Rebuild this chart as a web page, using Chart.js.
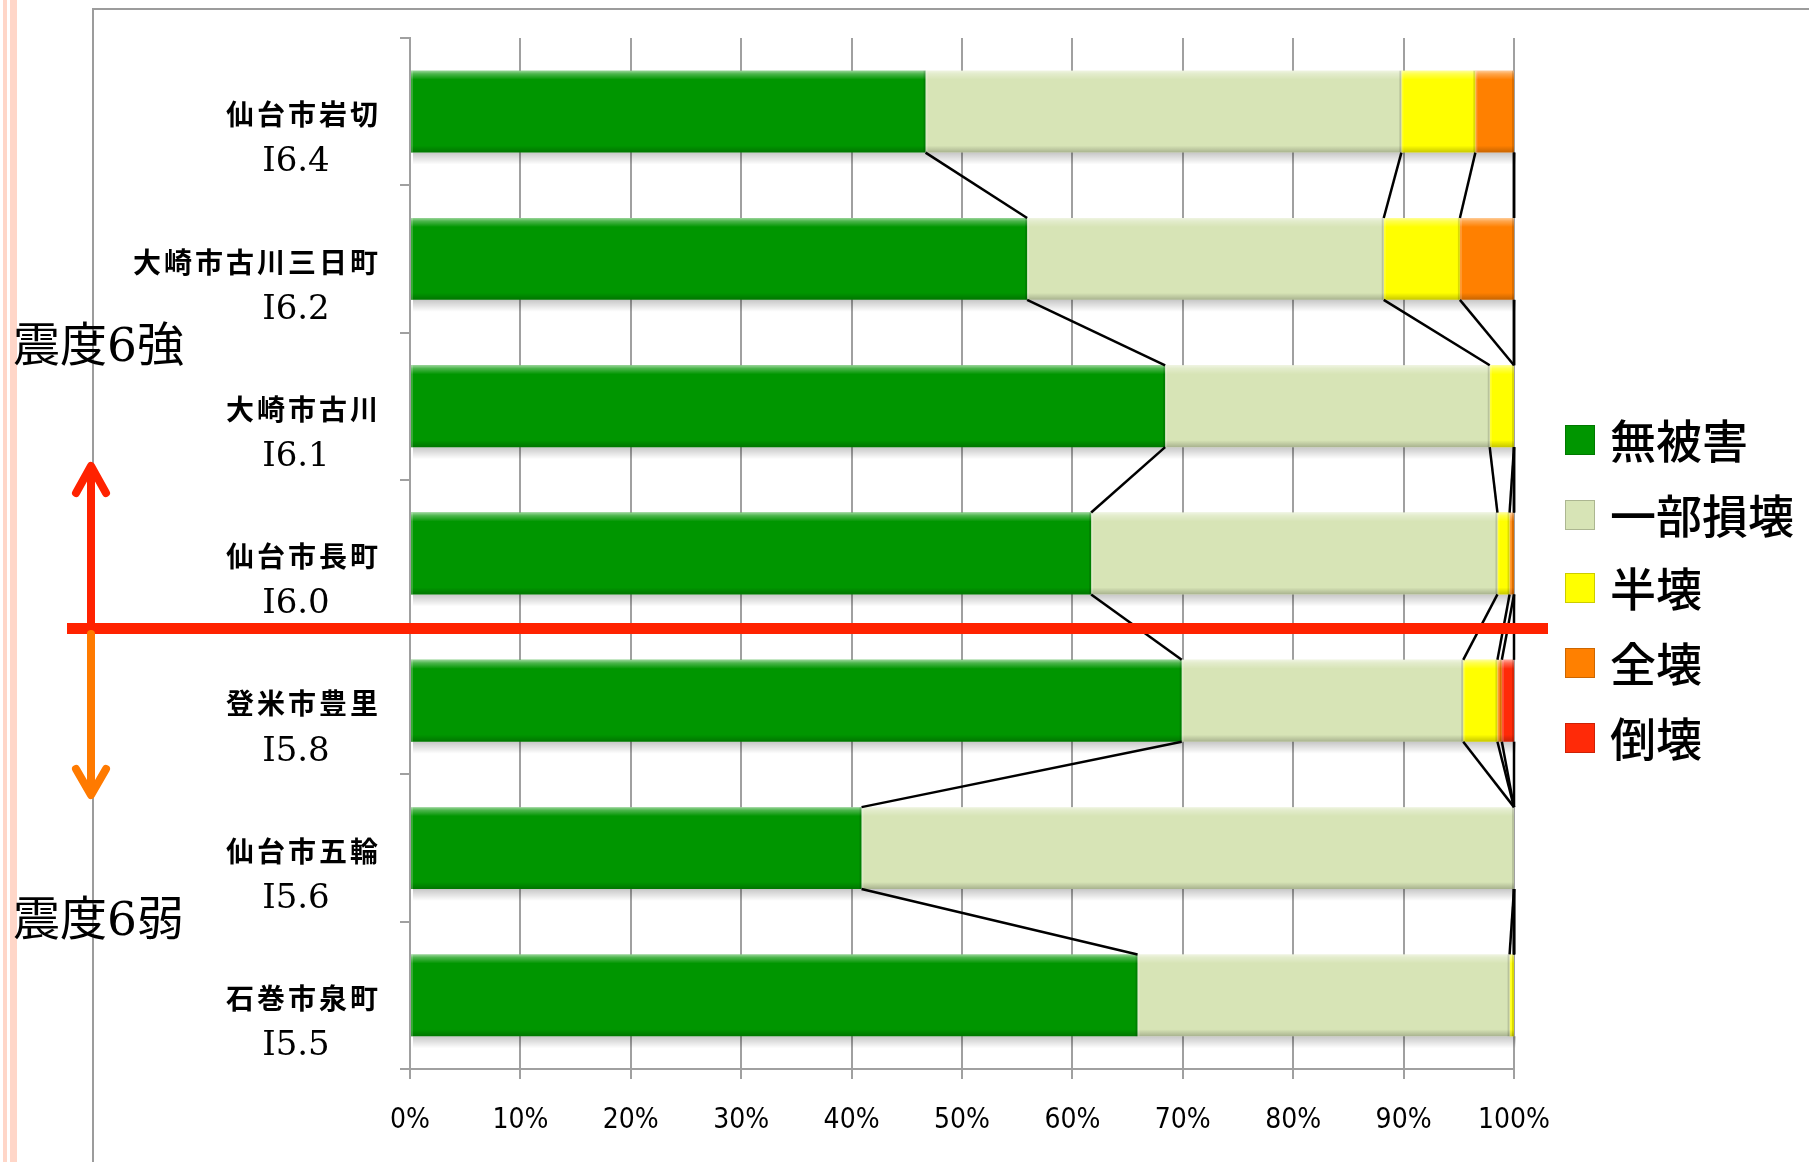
<!DOCTYPE html>
<html lang="ja">
<head>
<meta charset="utf-8">
<title>震度と被害の割合</title>
<script src="https://cdn.jsdelivr.net/npm/chart.js@4/dist/chart.umd.min.js"></script>
<style>
  html, body { margin: 0; padding: 0; background: #fff; }
  #wrap { width: 1809px; height: 1162px; position: relative; }
</style>
</head>
<body>
<div id="wrap"><canvas id="damageChart"></canvas></div>
<script>
// 観測点ごとの被害割合 (%)
const sites = ['仙台市岩切', '大崎市古川三日町', '大崎市古川', '仙台市長町', '登米市豊里', '仙台市五輪', '石巻市泉町'];
const intensity = ['I6.4', 'I6.2', 'I6.1', 'I6.0', 'I5.8', 'I5.6', 'I5.5'];
const seriesNames = ['無被害', '一部損壊', '半壊', '全壊', '倒壊'];
const noDamage = [46.7, 55.9, 68.4, 61.7, 69.9, 40.9, 65.9];
const partDamage = [43.1, 32.3, 29.4, 36.8, 25.5, 59.1, 33.7];
const halfCollapse = [6.7, 6.9, 2.2, 1.1, 3.1, 0, 0.4];
const fullCollapse = [3.5, 4.9, 0, 0.4, 0.4, 0, 0];
const toppled = [0, 0, 0, 0, 1.1, 0, 0];
const groupLabels = ['震度6強', '震度6弱'];

const seriesColors = ['#009600', '#d7e4b6', '#ffff00', '#ff8000', '#ff2a08'];
const seriesValues = [noDamage, partDamage, halfCollapse, fullCollapse, toppled];

const GRID = '#a0a0a0';

// 棒の立体感・影・系列線・ラベル・凡例などの描画
const decor = {
  id: 'decor',
  beforeDraw(chart) {
    const { ctx, width, height } = chart;
    ctx.save();
    ctx.fillStyle = '#fff';
    ctx.fillRect(0, 0, width, height);
    // 左端の飾り線
    ctx.fillStyle = '#ffd6c8';
    ctx.fillRect(3, 0, 4, height);
    ctx.fillRect(10, 0, 7, height);
    // 外枠
    ctx.strokeStyle = '#9c9c9c';
    ctx.lineWidth = 2;
    ctx.beginPath();
    ctx.moveTo(93, height);
    ctx.lineTo(93, 9);
    ctx.lineTo(width, 9);
    ctx.stroke();
    ctx.restore();
  },
  beforeDatasetsDraw(chart) {
    const { ctx } = chart;
    const first = chart.getDatasetMeta(0).data;
    const last = chart.getDatasetMeta(chart.data.datasets.length - 1).data;
    ctx.save();
    first.forEach((el, i) => {
      const bottom = el.y + el.height / 2;
      const left = el.base;
      const right = last[i].x;
      const g = ctx.createLinearGradient(0, bottom, 0, bottom + 12);
      g.addColorStop(0, 'rgba(0,0,0,0.22)');
      g.addColorStop(1, 'rgba(0,0,0,0)');
      ctx.fillStyle = g;
      ctx.fillRect(left + 2, bottom, right - left, 12);
    });
    ctx.restore();
  },
  afterDatasetsDraw(chart) {
    const { ctx } = chart;
    const n = chart.data.datasets.length;
    ctx.save();
    // 面取り風の陰影
    for (let d = 0; d < n; d++) {
      chart.getDatasetMeta(d).data.forEach(el => {
        const left = Math.min(el.x, el.base);
        const w = Math.abs(el.x - el.base);
        if (w < 0.5) return;
        const top = el.y - el.height / 2;
        const h = el.height;
        let g = ctx.createLinearGradient(0, top, 0, top + 9);
        g.addColorStop(0, 'rgba(255,255,255,0.6)');
        g.addColorStop(0.35, 'rgba(255,255,255,0.3)');
        g.addColorStop(1, 'rgba(255,255,255,0)');
        ctx.fillStyle = g;
        ctx.fillRect(left, top, w, 9);
        g = ctx.createLinearGradient(0, top + h - 7, 0, top + h);
        g.addColorStop(0, 'rgba(0,0,0,0)');
        g.addColorStop(1, 'rgba(0,0,0,0.22)');
        ctx.fillStyle = g;
        ctx.fillRect(left, top + h - 7, w, 7);
        if (w > 4) {
          ctx.fillStyle = 'rgba(0,0,0,0.14)';
          ctx.fillRect(left + w - 2, top, 2, h);
          ctx.fillStyle = 'rgba(255,255,255,0.2)';
          ctx.fillRect(left, top, 2, h);
        }
      });
    }
    // 系列線
    ctx.strokeStyle = '#000';
    ctx.lineWidth = 2.5;
    for (let d = 0; d < n; d++) {
      const els = chart.getDatasetMeta(d).data;
      for (let i = 0; i < els.length - 1; i++) {
        const a = els[i], b = els[i + 1];
        ctx.beginPath();
        ctx.moveTo(a.x, a.y + a.height / 2);
        ctx.lineTo(b.x, b.y - b.height / 2);
        ctx.stroke();
      }
    }
    // 観測点ラベル
    const yScale = chart.scales.y;
    ctx.fillStyle = '#000';
    ctx.textBaseline = 'middle';
    sites.forEach((name, i) => {
      const cy = yScale.getPixelForValue(i);
      ctx.font = 'bold 28px "Noto Sans CJK JP"';
      ctx.letterSpacing = '3px';
      ctx.textAlign = 'right';
      ctx.fillText(name, 381, cy + 3);
      ctx.letterSpacing = '0px';
      ctx.font = '34px "DejaVu Serif"';
      ctx.textAlign = 'center';
      ctx.fillText(intensity[i], 296, cy + 51);
    });
    // 凡例
    const legendY = [440, 515, 588, 663, 738];
    chart.data.datasets.forEach((ds, d) => {
      const y = legendY[d];
      ctx.fillStyle = ds.backgroundColor;
      ctx.fillRect(1565, y - 15, 30, 30);
      ctx.strokeStyle = 'rgba(0,0,0,0.2)';
      ctx.lineWidth = 1;
      ctx.strokeRect(1565.5, y - 14.5, 29, 29);
      ctx.fillStyle = '#000';
      ctx.font = '500 46px "Noto Sans CJK JP"';
      ctx.textAlign = 'left';
      ctx.fillText(ds.label, 1610, y + 1);
    });
    ctx.restore();
  },
  afterDraw(chart) {
    const { ctx } = chart;
    ctx.save();
    // 震度6強/6弱の境界
    ctx.fillStyle = '#ff2200';
    ctx.fillRect(67, 623, 1548 - 67, 11);
    ctx.lineCap = 'round';
    ctx.lineJoin = 'round';
    ctx.lineWidth = 8;
    // 上向き矢印
    ctx.strokeStyle = '#ff2200';
    ctx.beginPath();
    ctx.moveTo(91, 623);
    ctx.lineTo(91, 468);
    ctx.stroke();
    ctx.beginPath();
    ctx.moveTo(76, 493);
    ctx.lineTo(91, 466);
    ctx.lineTo(106, 493);
    ctx.stroke();
    // 下向き矢印
    ctx.strokeStyle = '#ff7a00';
    ctx.beginPath();
    ctx.moveTo(91, 634);
    ctx.lineTo(91, 792);
    ctx.stroke();
    ctx.beginPath();
    ctx.moveTo(76, 769);
    ctx.lineTo(91, 795);
    ctx.lineTo(106, 769);
    ctx.stroke();
    // 震度の区分
    ctx.fillStyle = '#000';
    ctx.font = '47px "DejaVu Serif", "Noto Sans CJK JP"';
    ctx.textAlign = 'left';
    ctx.textBaseline = 'middle';
    ctx.fillText(groupLabels[0], 13, 349);
    ctx.fillText(groupLabels[1], 13, 923);
    ctx.restore();
  }
};

new Chart(document.getElementById('damageChart'), {
  type: 'bar',
  data: {
    labels: sites,
    datasets: seriesNames.map((name, d) => ({
      label: name,
      data: seriesValues[d],
      backgroundColor: seriesColors[d],
      borderWidth: 0,
      barPercentage: 1,
      categoryPercentage: 0.556
    }))
  },
  options: {
    indexAxis: 'y',
    responsive: true,
    maintainAspectRatio: false,
    animation: false,
    layout: { padding: { left: 400, top: 38, right: 295, bottom: 0 } },
    plugins: {
      legend: { display: false },
      tooltip: { enabled: false }
    },
    scales: {
      x: {
        stacked: true,
        min: 0,
        max: 100,
        afterFit: s => { s.height = 93; },
        ticks: {
          stepSize: 10,
          callback: v => v + '%',
          color: '#000',
          padding: 25,
          font: { family: '"DejaVu Sans Condensed", "DejaVu Sans"', size: 28 }
        },
        grid: { color: GRID, lineWidth: 2, tickLength: 10 },
        border: { color: GRID, width: 2 }
      },
      y: {
        stacked: true,
        afterFit: s => { s.width = 10; },
        ticks: { display: false },
        grid: { drawOnChartArea: false, color: GRID, lineWidth: 2, tickLength: 10, offset: true },
        border: { color: GRID, width: 2 }
      }
    }
  },
  plugins: [decor]
});
</script>
</body>
</html>
